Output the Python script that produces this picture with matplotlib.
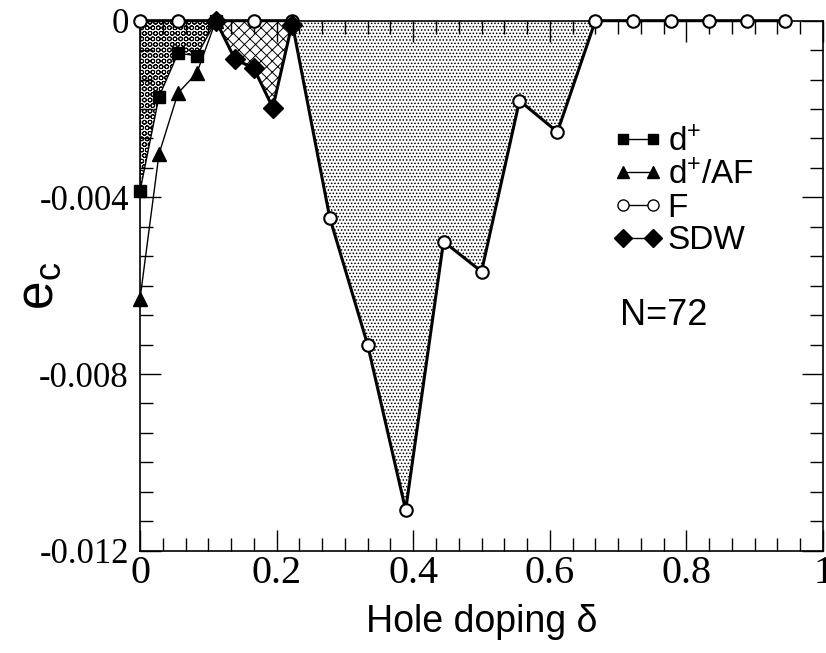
import matplotlib
matplotlib.use("Agg")
import matplotlib.pyplot as plt
from matplotlib.ticker import MultipleLocator
from matplotlib.lines import Line2D

plt.rcParams['font.family'] = 'Liberation Sans'
plt.rcParams['mathtext.fontset'] = 'custom'
plt.rcParams['mathtext.rm'] = 'Liberation Sans'
plt.rcParams['mathtext.it'] = 'Liberation Sans:italic'
plt.rcParams['axes.unicode_minus'] = False
plt.rcParams['hatch.linewidth'] = 0.7

# d+ и d+/AF (шаг 2/72)
dop_d = [0.0, 0.0278, 0.0556, 0.0833, 0.1111]
e_dplus = [-0.00386, -0.00172, -0.00074, -0.00079, 0.0]
e_dplus_af = [-0.00630, -0.00302, -0.00164, -0.00118, 0.0]

# SDW
dop_sdw = [0.1111, 0.1389, 0.1667, 0.1944, 0.2222]
e_sdw = [0.0, -0.00087, -0.00108, -0.00197, -0.0001]

# F (шаг 4/72)
dop_f = [0.0, 0.0556, 0.1111, 0.1667, 0.2222, 0.2778, 0.3333, 0.3889, 0.4444,
         0.5, 0.5556, 0.6111, 0.6667, 0.7222, 0.7778, 0.8333, 0.8889, 0.9444]
e_f = [0.0, 0.0, 0.0, 0.0, 0.0, -0.00446, -0.00734, -0.01108, -0.00500,
       -0.00568, -0.00181, -0.00252, 0.0, 0.0, 0.0, 0.0, 0.0, 0.0]

x_ticks = [0, 0.2, 0.4, 0.6, 0.8, 1.0]
x_tick_labels = ['0', '0.2', '0.4', '0.6', '0.8', '1']
y_ticks = [0, -0.004, -0.008, -0.012]
y_tick_labels = ['0', '-0.004', '-0.008', '-0.012']

legend_labels = [r'd$^{+}$', r'd$^{+}$/AF', 'F', 'SDW']

fig = plt.figure(figsize=(8.26, 6.53), dpi=100)
ax = fig.add_axes([0.1695, 0.1567, 0.8269, 0.8116])

# заливки
ax.fill_between(dop_d, e_dplus, 0, facecolor='white', edgecolor='black', hatch='OOO', linewidth=0, zorder=1)
ax.fill_between(dop_sdw, e_sdw, 0, facecolor='white', edgecolor='black', hatch='xxx', linewidth=0, zorder=1)
ax.fill_between(dop_f[4:13], e_f[4:13], 0, facecolor='white', edgecolor='black', hatch='.....', linewidth=0, zorder=1)

# линии
ax.plot(dop_d, e_dplus, '-s', color='black', lw=1, ms=8, clip_on=False, zorder=3)
ax.plot(dop_d, e_dplus_af, '-^', color='black', lw=1, ms=9.5, clip_on=False, zorder=3)
ax.plot(dop_f, e_f, '-o', color='black', mfc='white', mec='black', mew=1.5, lw=2.2, ms=9, clip_on=False, zorder=4)
ax.plot(dop_sdw, e_sdw, '-D', color='black', lw=2.2, ms=10, clip_on=False, zorder=5)

ax.set_xlim(0, 1)
ax.set_ylim(-0.012, 0)
ax.set_xticks(x_ticks, x_tick_labels)
ax.set_yticks(y_ticks, y_tick_labels)
ax.xaxis.set_minor_locator(MultipleLocator(0.2 / 6))
ax.yaxis.set_minor_locator(MultipleLocator(0.004 / 6))
ax.tick_params(which='both', direction='in', top=True, right=True, width=1)
ax.tick_params(which='major', length=15)
ax.tick_params(which='minor', length=9.4)
ax.tick_params(axis='x', labelsize=29, pad=3)
ax.tick_params(axis='y', labelsize=25, pad=8)
for lab in ax.get_xticklabels() + ax.get_yticklabels():
    lab.set_fontfamily('Liberation Serif')
for s in ax.spines.values():
    s.set_linewidth(1.2)

ax.set_xlabel(u'Hole doping δ', fontsize=27)
ax.xaxis.set_label_coords(0.5, -0.1)
ax.set_ylabel(r'e$_\mathregular{c}$', fontsize=37)
ax.yaxis.set_label_coords(-0.112, 0.5)

handles = [
    Line2D([], [], color='black', lw=1, marker='s', ms=7),
    Line2D([], [], color='black', lw=1, marker='^', ms=8),
    Line2D([], [], color='black', lw=1, marker='o', ms=8, mfc='white'),
    Line2D([], [], color='black', lw=1, marker='D', ms=9),
]
ax.legend(handles, legend_labels, loc='upper left', bbox_to_anchor=(0.693, 0.80),
          frameon=False, fontsize=24, numpoints=2, handlelength=1.48,
          handletextpad=0.15, labelspacing=0.05, borderpad=0, borderaxespad=0)

ax.text(0.703, 0.443, 'N=72', transform=ax.transAxes, fontsize=26, va='center', ha='left')

fig.savefig('out.png', dpi=100)
